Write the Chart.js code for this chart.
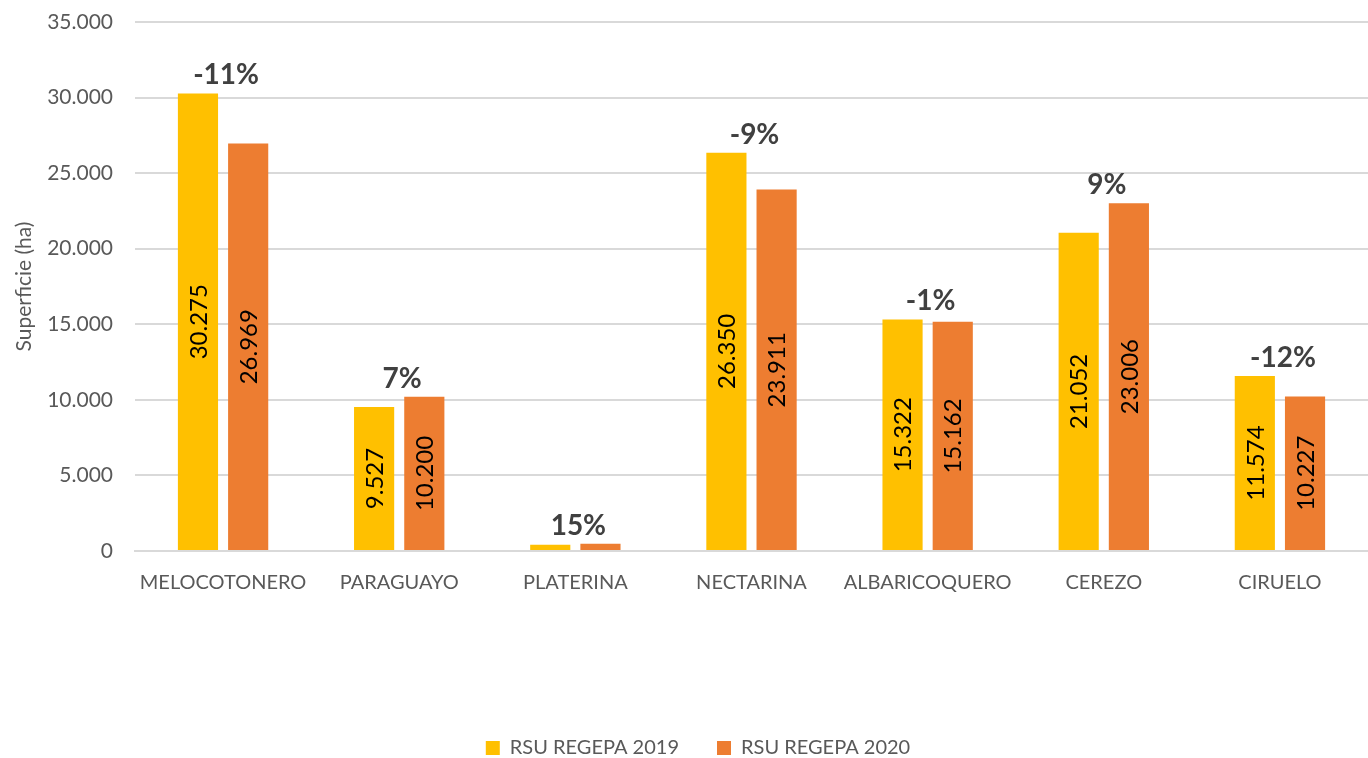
<!DOCTYPE html>
<html>
<head>
<meta charset="utf-8">
<script src="https://cdn.jsdelivr.net/npm/chart.js@4.4.1/dist/chart.umd.min.js"></script>
<style>
    html, body { margin: 0; padding: 0; background: #fff; }
    #wrap { width: 1368px; height: 758px; position: relative; }
</style>
</head>
<body>
<div id="wrap"><canvas id="chart"></canvas></div>
<script>
// --- datos ---
const categories = ['MELOCOTONERO', 'PARAGUAYO', 'PLATERINA', 'NECTARINA', 'ALBARICOQUERO', 'CEREZO', 'CIRUELO'];
const serie2019 = [30275, 9527, 410, 26350, 15322, 21052, 11574];
const serie2020 = [26969, 10200, 472, 23911, 15162, 23006, 10227];
const variacion = ['-11%', '7%', '15%', '-9%', '-1%', '9%', '-12%'];
const yTicks = [0, 5000, 10000, 15000, 20000, 25000, 30000, 35000];

const FONT = 'Lato, "Open Sans", sans-serif';
const fmt = v => Math.round(v).toString().replace(/\B(?=(\d{3})+(?!\d))/g, '.');

// etiquetas dentro de las barras (giradas) y % de variación encima de cada grupo
const barLabels = {
    id: 'barLabels',
    afterDatasetsDraw(chart) {
        const ctx = chart.ctx;
        ctx.save();
        chart.data.datasets.forEach((ds, i) => {
            const meta = chart.getDatasetMeta(i);
            meta.data.forEach((bar, j) => {
                const h = bar.base - bar.y;
                if (h < 90) return;
                ctx.save();
                ctx.translate(bar.x, (bar.y + bar.base) / 2);
                ctx.rotate(-Math.PI / 2);
                ctx.font = '24px ' + FONT;
                ctx.fillStyle = '#000';
                ctx.textAlign = 'center';
                ctx.textBaseline = 'middle';
                ctx.fillText(fmt(ds.data[j]), 0, 1);
                ctx.restore();
            });
        });
        const m0 = chart.getDatasetMeta(0).data;
        const m1 = chart.getDatasetMeta(1).data;
        ctx.font = 'bold 28px ' + FONT;
        ctx.fillStyle = '#404040';
        ctx.textAlign = 'center';
        ctx.textBaseline = 'alphabetic';
        variacion.forEach((txt, j) => {
            const x = (m0[j].x + m1[j].x) / 2 + 3;
            const top = Math.min(m0[j].y, m1[j].y);
            ctx.fillText(txt, x, top - 9);
        });
        ctx.restore();
    }
};

// leyenda más baja y algo desplazada a la derecha, como en el original
const legendLow = {
    id: 'legendLow',
    beforeInit(chart) {
        const fit = chart.legend.fit;
        chart.legend.fit = function () {
            fit.call(this);
            this.height = 58;
        };
    },
    afterLayout(chart) {
        chart.legend.left += 14;
        chart.legend.right += 14;
    }
};

new Chart(document.getElementById('chart'), {
    type: 'bar',
    data: {
        labels: categories,
        datasets: [
            { label: 'RSU REGEPA 2019', data: serie2019, backgroundColor: '#FFC000' },
            { label: 'RSU REGEPA 2020', data: serie2020, backgroundColor: '#ED7D31' }
        ]
    },
    options: {
        responsive: true,
        maintainAspectRatio: false,
        animation: false,
        categoryPercentage: 0.57,
        barPercentage: 0.8,
        layout: { padding: { top: 22, left: 0, right: 0, bottom: 0 } },
        plugins: {
            legend: {
                position: 'bottom',
                labels: {
                    color: '#595959',
                    font: { family: FONT, size: 20 },
                    boxWidth: 14,
                    boxHeight: 14,
                    padding: 38
                }
            },
            tooltip: { enabled: false }
        },
        scales: {
            x: {
                grid: { display: false, drawTicks: false },
                border: { color: '#d9d9d9', width: 2 },
                ticks: { color: '#595959', font: { family: FONT, size: 20 }, padding: 20 },
                afterFit(scale) { scale.height = 149; }
            },
            y: {
                min: 0,
                max: 35000,
                afterBuildTicks(scale) { scale.ticks = yTicks.map(v => ({ value: v })); },
                afterFit(scale) { scale.width = 135; },
                grid: { color: '#d9d9d9', lineWidth: 2, drawTicks: true, tickLength: 22, tickColor: 'rgba(0,0,0,0)' },
                border: { display: false },
                ticks: {
                    color: '#595959',
                    font: { family: FONT, size: 21 },
                    padding: 0,
                    callback: v => fmt(v)
                },
                title: {
                    display: true,
                    text: 'Superficie (ha)',
                    color: '#595959',
                    font: { family: FONT, size: 21 },
                    padding: { top: 12, bottom: 2 }
                }
            }
        }
    },
    plugins: [barLabels, legendLow]
});
</script>
</body>
</html>
